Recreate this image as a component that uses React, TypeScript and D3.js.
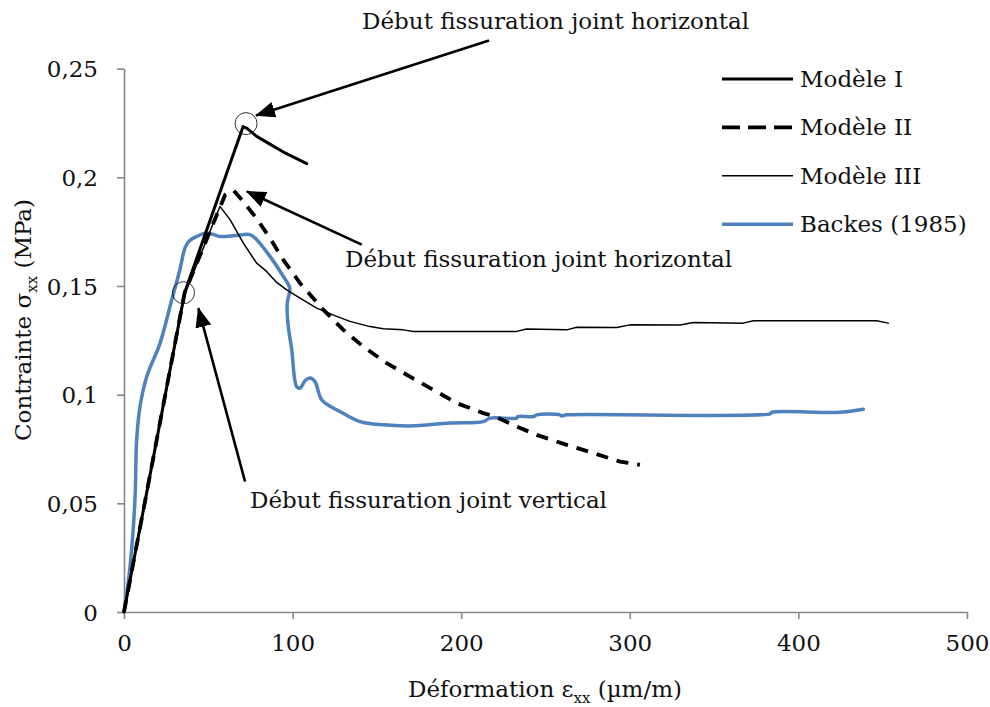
import React, { useRef, useEffect } from "react";
import * as d3 from "d3";

type Pt = [number, number];

// Modèle I (trait épais)
const modele1: Pt[] = [
  [0, 0], [36, 0.147], [70.6, 0.2233], [73, 0.2225], [78.7, 0.2188], [86, 0.2155],
  [92, 0.2128], [95.5, 0.2112], [108.4, 0.2063],
];

// Modèle II (tirets)
const modele2: Pt[] = [
  [0, 0], [36, 0.147], [60, 0.192], [65, 0.194], [70, 0.1895], [78.7, 0.181],
  [87, 0.1715], [94.5, 0.162], [104.4, 0.1513], [117.3, 0.1398], [130.1, 0.1298],
  [141.9, 0.1221], [155.8, 0.1145], [169.6, 0.1083], [183.5, 0.1022], [197.3, 0.0961],
  [213.1, 0.0915], [220.1, 0.0899], [232.9, 0.0853], [244.8, 0.0815], [262.6, 0.0769],
  [278.4, 0.0731], [294.2, 0.0692], [306, 0.0677],
];

// Modèle III (trait fin)
const modele3: Pt[] = [
  [0, 0], [36, 0.146], [56.9, 0.1866], [62.9, 0.1805], [70.8, 0.1697], [74.7, 0.1651],
  [78.7, 0.1605], [84.6, 0.1567], [90, 0.152], [96.5, 0.1482], [104.4, 0.1444],
  [114.3, 0.1398], [126.2, 0.136], [134, 0.1337], [145.9, 0.1313], [153.8, 0.1303],
  [165.7, 0.1298], [171.6, 0.1291], [232.9, 0.1291], [238.8, 0.1302], [262.6, 0.1298],
  [268.5, 0.131], [292.2, 0.1309], [300.1, 0.1321], [329.8, 0.132], [337.7, 0.1332],
  [367.3, 0.1329], [373.3, 0.134], [446.4, 0.134], [453.3, 0.1329],
];

// Backes (1985)
const backes: Pt[] = [
  [0, 0], [3.6, 0.021], [6.5, 0.0516], [7.5, 0.079], [9.5, 0.0945], [13.5, 0.1083],
  [21.4, 0.1237], [28.3, 0.1436], [33, 0.157], [36.2, 0.1675], [38.5, 0.1705], [41.1, 0.172],
  [49.1, 0.1744], [56.9, 0.1728], [66, 0.1732], [74.7, 0.1736], [78.7, 0.1713],
  [86.6, 0.1636], [94.5, 0.1544], [98.3, 0.149], [96.8, 0.142], [97.2, 0.133],
  [99.5, 0.1206], [102.4, 0.1037], [104.4, 0.103], [107.5, 0.1065], [110.3, 0.1076],
  [113.3, 0.106], [117.3, 0.0976], [128.1, 0.0922], [140, 0.0876], [153.8, 0.0861],
  [169.6, 0.0856], [193.4, 0.0869], [213.1, 0.0876], [217.1, 0.0892], [232.9, 0.0892],
  [233.5, 0.0899], [242.8, 0.0899], [244.8, 0.0907], [258.6, 0.0907], [259.6, 0.0902],
  [262.6, 0.0907], [383.2, 0.0912], [384.2, 0.0919], [424.7, 0.0919], [438.5, 0.0933],
];

const xTicks = [0, 100, 200, 300, 400, 500];
const yTicks = [0, 0.05, 0.1, 0.15, 0.2, 0.25];

const seriesNames = ["Modèle I", "Modèle II", "Modèle III", "Backes (1985)"];

// annotations (data units): text start, arrow start, arrow tip
const annotLabels = [
  "Début fissuration joint horizontal",
  "Début fissuration joint horizontal",
  "Début fissuration joint vertical",
];
const annotText: Pt[] = [[141.2, 0.2684], [131.1, 0.1588], [74.7, 0.0479]];
const annotFrom: Pt[] = [[216.5, 0.2629], [141, 0.169], [71.8, 0.06]];
const annotTo: Pt[] = [[78.3, 0.2284], [72.8, 0.1935], [44.1, 0.1398]];
const circles: Pt[] = [[72.4, 0.2247], [35.3, 0.1469]];

const FONT = "DejaVu Serif, serif";
const FS = 23;

export default function App() {
  const svgRef = useRef<SVGSVGElement>(null);
  const width = 990;
  const height = 707;

  useEffect(() => {
    if (!svgRef.current) return;
    const svg = d3.select(svgRef.current);
    svg.selectAll("*").remove();

    const x = d3.scaleLinear().domain([0, 500]).range([124, 967]);
    const y = d3.scaleLinear().domain([0, 0.25]).range([612, 68.6]);
    const fmt = (d: d3.NumberValue) => (+d === 0 ? "0" : String(+d).replace(".", ","));

    // arrow marker
    svg.append("defs").append("marker")
      .attr("id", "arrow")
      .attr("markerUnits", "userSpaceOnUse")
      .attr("viewBox", "0 0 20 16")
      .attr("markerWidth", 20)
      .attr("markerHeight", 16)
      .attr("refX", 19)
      .attr("refY", 8)
      .attr("orient", "auto")
      .append("path")
      .attr("d", "M0,0 L20,8 L0,16 Z")
      .attr("fill", "#000");

    // axes
    const gx = svg.append("g").attr("transform", `translate(0,${y(0)})`)
      .call(d3.axisBottom(x).tickValues(xTicks).tickSize(7).tickSizeOuter(0).tickPadding(16).tickFormat(fmt));
    const gy = svg.append("g").attr("transform", `translate(${x(0)},0)`)
      .call(d3.axisLeft(y).tickValues(yTicks).tickSize(7).tickSizeOuter(0).tickPadding(19).tickFormat(fmt));
    [gx, gy].forEach((g) => {
      g.select(".domain").attr("stroke", "#878787").attr("stroke-width", 1.6);
      g.selectAll(".tick line").attr("stroke", "#878787").attr("stroke-width", 1.6);
      g.selectAll(".tick text")
        .attr("fill", "#111")
        .attr("font-family", FONT)
        .attr("font-size", FS);
      g.attr("font-family", null).attr("font-size", null);
    });
    gx.selectAll(".tick text").attr("dy", "0.71em");
    gy.selectAll(".tick text").attr("dy", "0.36em");

    // axis titles
    const xt = svg.append("text")
      .attr("x", 545).attr("y", 697)
      .attr("text-anchor", "middle")
      .attr("font-family", FONT).attr("font-size", FS)
      .attr("fill", "#111");
    xt.append("tspan").text("Déformation ε");
    xt.append("tspan").attr("font-size", 15).attr("dy", 6).text("xx");
    xt.append("tspan").attr("dy", -6).text(" (µm/m)");

    const yt = svg.append("text")
      .attr("transform", "translate(31,320) rotate(-90)")
      .attr("text-anchor", "middle")
      .attr("font-family", FONT).attr("font-size", FS)
      .attr("fill", "#111");
    yt.append("tspan").text("Contrainte σ");
    yt.append("tspan").attr("font-size", 15).attr("dy", 6).text("xx");
    yt.append("tspan").attr("dy", -6).text(" (MPa)");

    // series
    const line = d3.line<Pt>().x((d) => x(d[0])).y((d) => y(d[1]));
    const smooth = d3.line<Pt>().x((d) => x(d[0])).y((d) => y(d[1])).curve(d3.curveCatmullRom.alpha(0.5));

    const styles = [
      { data: modele1, color: "#000", w: 3, dash: null as string | null, gen: line, legDash: null as string | null },
      { data: modele2, color: "#000", w: 3.8, dash: "12,9", gen: line, legDash: "18,8" },
      { data: modele3, color: "#000", w: 1.5, dash: null, gen: line, legDash: null },
      { data: backes, color: "#4F81BD", w: 3.5, dash: null, gen: smooth, legDash: null },
    ];

    const plot = svg.append("g");
    // draw order: Backes under models
    [3, 2, 1, 0].forEach((i) => {
      const s = styles[i];
      plot.append("path")
        .attr("d", s.gen(s.data) || "")
        .attr("fill", "none")
        .attr("stroke", s.color)
        .attr("stroke-width", s.w)
        .attr("stroke-linejoin", "round")
        .attr("stroke-linecap", s.dash ? "butt" : "round")
        .attr("stroke-dasharray", s.dash);
    });

    // legend
    const leg = svg.append("g");
    styles.forEach((s, i) => {
      const ly = 79 + i * 48.4;
      leg.append("line")
        .attr("x1", 722).attr("x2", 793).attr("y1", ly).attr("y2", ly)
        .attr("stroke", s.color).attr("stroke-width", s.w)
        .attr("stroke-dasharray", s.legDash);
      leg.append("text")
        .attr("x", 800).attr("y", ly + 8)
        .attr("font-family", FONT).attr("font-size", FS)
        .attr("fill", "#111")
        .text(seriesNames[i]);
    });

    // annotations
    circles.forEach((c) => {
      svg.append("circle")
        .attr("cx", x(c[0])).attr("cy", y(c[1])).attr("r", 11)
        .attr("fill", "none").attr("stroke", "#000").attr("stroke-width", 0.8);
    });
    annotLabels.forEach((t, i) => {
      svg.append("line")
        .attr("x1", x(annotFrom[i][0])).attr("y1", y(annotFrom[i][1]))
        .attr("x2", x(annotTo[i][0])).attr("y2", y(annotTo[i][1]))
        .attr("stroke", "#000").attr("stroke-width", 2.6)
        .attr("marker-end", "url(#arrow)");
      svg.append("text")
        .attr("x", x(annotText[i][0])).attr("y", y(annotText[i][1]))
        .attr("font-family", FONT).attr("font-size", FS)
        .attr("fill", "#111")
        .text(t);
    });
  }, []);

  return (
    <svg
      ref={svgRef}
      width={width}
      height={height}
      style={{ position: "absolute", left: 0, top: 0, background: "#fff" }}
    ></svg>
  );
}
